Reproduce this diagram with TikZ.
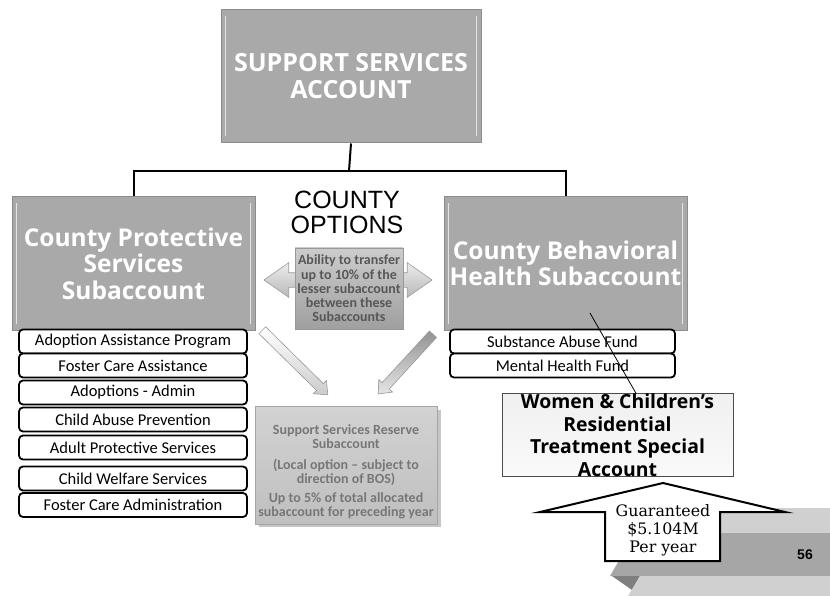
\documentclass[tikz,border=0pt]{standalone}
\usepackage{fontspec}
\setmainfont{Carlito}
\newfontfamily\headfont{Open Sans}
\newfontfamily\arialfont{Liberation Sans}
\newfontfamily\seriffont{DejaVu Serif}
\usetikzlibrary{shapes.arrows,calc}

\definecolor{boxgray}{HTML}{A9A9A9}
\definecolor{edgegray}{HTML}{8C8C8C}
\definecolor{bevelgray}{HTML}{E4E4E4}
\definecolor{notegray}{HTML}{575757}
\definecolor{reservetext}{HTML}{777777}
\definecolor{bandlight}{HTML}{D0D0D0}
\definecolor{bandmid}{HTML}{A6A6A6}
\definecolor{banddark}{HTML}{7F7F7F}

\newcommand\bevelbox[1]{%
  \draw[bevel] ($(#1.north west)+(5,7)$) -- ($(#1.south west)+(5,-7)$);
  \draw[bevel] ($(#1.north east)+(-5,7)$) -- ($(#1.south east)+(-5,-7)$);}

\begin{document}
\begin{tikzpicture}[x=1pt,y=-1pt,
  bigbox/.style={draw=edgegray, fill=boxgray, line width=1pt, text=white,
    align=center, inner sep=0pt},
  bevel/.style={draw=bevelgray, line width=1.6pt},
  listbox/.style={draw=black, fill=white, line width=1.8pt, rounded corners=4pt,
    minimum height=24pt, inner sep=0pt, font=\fontsize{16.5}{18}\selectfont},
  tree/.style={draw=black, line width=2pt},
  blockarrow/.style={single arrow, single arrow head extend=4.5pt,
    single arrow tip angle=80, inner sep=4.5pt, draw=gray!80, line width=0.6pt,
    shading=axis},
]
\useasboundingbox (0,0) rectangle (830,596);

% decorative bands, lower right
\fill[bandlight] (700,508) rectangle (830,533);
\fill[bandmid] (610,576) -- (635,533) -- (830,533) -- (830,576) -- cycle;
\fill[banddark] (612,576) -- (640,576) -- (632,590) -- cycle;
\fill[bandlight] (640,576) -- (830,576) -- (830,596) -- (628,596) -- cycle;
\node[font=\arialfont\bfseries\fontsize{14}{16}\selectfont] (pagenum) at (805,555) {56};

% main account
\node[bigbox, minimum width=260pt, minimum height=133pt,
  font=\headfont\bfseries\fontsize{25}{27}\selectfont] (top) at (351,76.5)
  {SUPPORT SERVICES\\ACCOUNT};
\bevelbox{top}

% subaccounts
\node[bigbox, minimum width=243pt, minimum height=133pt,
  font=\headfont\bfseries\fontsize{24.5}{26.5}\selectfont] (cps) at (133.5,263.5)
  {County Protective\\Services\\Subaccount};
\bevelbox{cps}
\node[bigbox, minimum width=243pt, minimum height=133pt,
  font=\headfont\bfseries\fontsize{24.5}{26}\selectfont] (cbh) at (565.5,263.5)
  {County Behavioral\\Health Subaccount};
\bevelbox{cbh}

% tree connector
\coordinate (junction) at (349,171);
\draw[tree] (top.south) -- (junction);
\draw[tree] (cps.north) |- (junction) -| (cbh.north);

% county options
\node[font=\arialfont\fontsize{25}{25}\selectfont, align=center] (opt) at (347,212)
  {COUNTY\\OPTIONS};

\node[double arrow, double arrow head extend=10pt, double arrow tip angle=70,
  minimum height=168pt, inner sep=7pt, draw=gray!80, line width=0.6pt,
  shading=axis, top color=gray!15, bottom color=gray!55] (transfer) at (348,280) {};
\node[draw=gray!80, line width=0.6pt, shading=axis, top color=gray!40,
  bottom color=gray!75, minimum width=108pt, minimum height=81pt, inner sep=0pt,
  text=notegray, align=center, font=\bfseries\fontsize{14}{14.3}\selectfont]
  (ability) at (349,288.5)
  {Ability to transfer\\up to 10\% of the\\lesser subaccount\\between these\\Subaccounts};

% reserve
\node[blockarrow, minimum height=92pt, rotate=-44.6,
  top color=white, bottom color=gray!40] (toresL) at (293,360.5) {};
\node[blockarrow, minimum height=81pt, rotate=227.5,
  top color=gray!85, bottom color=gray!20] (toresR) at (407.5,362) {};
\fill[gray!45] (259,410) rectangle (441,527);
\node[draw=gray!70, line width=0.6pt, shading=axis, top color=gray!35,
  bottom color=gray!50, minimum width=182pt, minimum height=118pt, inner sep=0pt]
  (reserve) at (346,465) {};
\node[text=reservetext, align=center, font=\bfseries\fontsize{14}{14.5}\selectfont]
  (reservenote) at ($(reserve.center)+(0,7)$)
  {Support Services Reserve\\Subaccount\\[6pt](Local option -- subject to\\direction of BOS)\\[4pt]Up to 5\% of total allocated\\subaccount for preceding year};

% protective services programs
\node[listbox, minimum width=228pt] (l1) at (133,341.5) {Adoption Assistance Program};
\node[listbox, minimum width=228pt] (l2) at (133,365.5) {Foster Care Assistance};
\node[listbox, minimum width=228pt] (l3) at (133,392.5) {Adoptions - Admin};
\node[listbox, minimum width=228pt] (l4) at (133,419.5) {Child Abuse Prevention};
\node[listbox, minimum width=228pt] (l5) at (133,447.5) {Adult Protective Services};
\node[listbox, minimum width=228pt] (l6) at (133,478.5) {Child Welfare Services};
\node[listbox, minimum width=228pt] (l7) at (133,505) {Foster Care Administration};

% behavioral health funds
\node[listbox, minimum width=225pt] (r1) at (562.5,341.5) {Substance Abuse Fund};
\node[listbox, minimum width=225pt] (r2) at (562.5,365.5) {Mental Health Fund};

% special account
\node[draw=black!70, line width=0.8pt, shading=axis, top color=gray!12,
  bottom color=gray!4, minimum width=231pt, minimum height=76pt, inner sep=0pt,
  align=center, font=\headfont\bfseries\fontsize{19.4}{22.5}\selectfont]
  (wc) at (617.5,435)
  {Women \& Children’s\\Residential\\Treatment Special\\Account};
\coordinate (link) at (590,313);
\draw[line width=0.8pt] (link) -- ($(wc.north west)!0.58!(wc.north east)$);

% guarantee callout
\coordinate (tip) at (663,483);
\draw[line width=2pt, fill=white, line join=miter]
  (tip) -- (785,512) -- (720,512) -- (720,561) -- (605,561) -- (605,512)
  -- (540,512) -- cycle;
\node[align=center, font=\seriffont\fontsize{15.8}{18}\selectfont] (guar) at (663,530)
  {Guaranteed\\\$5.104M\\Per year};
\end{tikzpicture}
\end{document}
